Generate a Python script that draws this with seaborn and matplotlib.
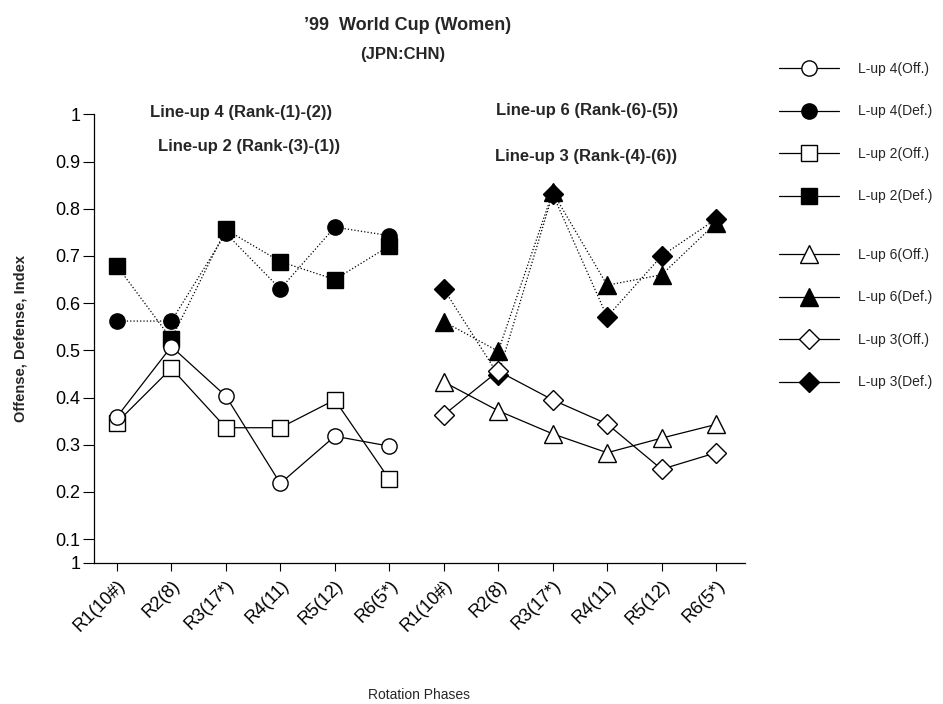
import numpy as np
import pandas as pd
import matplotlib
matplotlib.use("Agg")
import matplotlib.pyplot as plt
from matplotlib.lines import Line2D
import seaborn as sns

# rotation phase labels (two matches side by side)
phases = ["R1(10#)", "R2(8)", "R3(17*)", "R4(11)", "R5(12)", "R6(5*)"]
tick_labels = phases + phases

# left block: line-ups 4 and 2
lup4_off = [0.359, 0.508, 0.403, 0.218, 0.318, 0.297]
lup4_def = [0.562, 0.562, 0.748, 0.630, 0.761, 0.743]
lup2_off = [0.347, 0.462, 0.336, 0.336, 0.395, 0.227]
lup2_def = [0.679, 0.524, 0.756, 0.688, 0.650, 0.721]

# right block: line-ups 6 and 3
lup6_off = [0.433, 0.372, 0.323, 0.283, 0.314, 0.343]
lup6_def = [0.561, 0.498, 0.835, 0.638, 0.660, 0.770]
lup3_off = [0.363, 0.456, 0.395, 0.344, 0.248, 0.283]
lup3_def = [0.630, 0.448, 0.831, 0.571, 0.700, 0.778]

sns.set_style("ticks")
plt.rcParams["font.family"] = ["Liberation Sans", "DejaVu Sans"]

fig = plt.figure(figsize=(9.43, 7.04), dpi=100)
ax = fig.add_axes([0.0997, 0.2007, 0.6903, 0.6369])

left_x = np.arange(6)
right_x = np.arange(6, 12)

# (label, x, values, marker, filled, size)
series = [
    ("L-up 2(Def.)", left_x, lup2_def, "s", True, 11.5),
    ("L-up 4(Def.)", left_x, lup4_def, "o", True, 11),
    ("L-up 3(Def.)", right_x, lup3_def, "D", True, 10.5),
    ("L-up 6(Def.)", right_x, lup6_def, "^", True, 13),
    ("L-up 2(Off.)", left_x, lup2_off, "s", False, 11.5),
    ("L-up 4(Off.)", left_x, lup4_off, "o", False, 11),
    ("L-up 6(Off.)", right_x, lup6_off, "^", False, 13),
    ("L-up 3(Off.)", right_x, lup3_off, "D", False, 10.5),
]

styles = {}
for label, xs, vals, mk, filled, ms in series:
    ls = ":" if filled else "-"
    fc = "black" if filled else "white"
    sns.lineplot(x=xs, y=vals, ax=ax, color="black", linestyle=ls, linewidth=0.9,
                 marker=mk, markersize=ms, markerfacecolor=fc,
                 markeredgecolor="black", markeredgewidth=1.0)
    styles[label] = (mk, fc, ms)

ax.set_xlim(-0.42, 11.53)
ax.set_ylim(0.05, 1.0)
ax.set_xticks(np.arange(12))
ax.set_xticklabels(tick_labels, rotation=45, ha="right", rotation_mode="anchor",
                   fontsize=13)
yt = [0.05] + [round(0.1 * i, 1) for i in range(1, 11)]
ax.set_yticks(yt)
ax.set_yticklabels(["1"] + [f"{v:.1f}" for v in yt[1:-1]] + ["1"], fontsize=13)
ax.tick_params(axis="x", direction="out", length=6, width=0.8, colors="black", pad=4)
ax.tick_params(axis="y", direction="out", length=8, width=0.8, colors="black", pad=2)
sns.despine(ax=ax)
for sp in ax.spines.values():
    sp.set_linewidth(0.9)
    sp.set_color("black")

ax.set_xlabel("Rotation Phases", fontsize=10)
ax.xaxis.set_label_coords(0.5, -0.28)
ax.set_ylabel("Offense, Defense, Index", fontsize=10.5, fontweight="bold")
ax.yaxis.set_label_coords(-0.102, 0.5)

fig.text(408 / 943, 1 - 25 / 704, "\u201999  World Cup (Women)", ha="center", va="center",
         fontsize=13, fontweight="bold")
fig.text(403 / 943, 1 - 55 / 704, "(JPN:CHN)", ha="center", va="center",
         fontsize=12, fontweight="bold")

notes = [
    (241, 112, "Line-up 4 (Rank-(1)-(2))"),
    (249, 147, "Line-up 2 (Rank-(3)-(1))"),
    (587, 111, "Line-up 6 (Rank-(6)-(5))"),
    (586, 157, "Line-up 3 (Rank-(4)-(6))"),
]
for x, y, t in notes:
    fig.text(x / 943, 1 - y / 704, t, ha="center", va="center",
             fontsize=12, fontweight="bold")


def make_handles(labels):
    hs = []
    for lb in labels:
        mk, fc, ms = styles[lb]
        hs.append(Line2D([], [], color="black", linewidth=0.9, marker=mk,
                         markersize=ms, markerfacecolor=fc, markeredgecolor="black"))
    return hs


top_labels = ["L-up 4(Off.)", "L-up 4(Def.)", "L-up 2(Off.)", "L-up 2(Def.)"]
bot_labels = ["L-up 6(Off.)", "L-up 6(Def.)", "L-up 3(Off.)", "L-up 3(Def.)"]
leg_kw = dict(loc="upper left", frameon=False, fontsize=10, handlelength=4.3,
              handletextpad=1.4, labelspacing=2.05, borderaxespad=0, borderpad=0)
fig.legend(make_handles(top_labels), top_labels,
           bbox_to_anchor=(779 / 943, 1 - 62 / 704), **leg_kw)
fig.legend(make_handles(bot_labels), bot_labels,
           bbox_to_anchor=(779 / 943, 1 - 248 / 704), **leg_kw)

fig.savefig("out.png", dpi=100)
